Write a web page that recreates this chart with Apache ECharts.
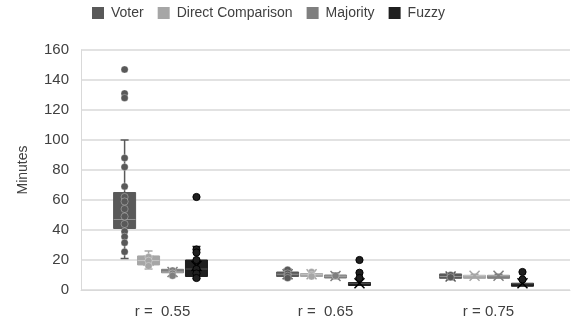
<!DOCTYPE html>
<html>
<head>
<meta charset="utf-8">
<script src="https://cdn.jsdelivr.net/npm/echarts@6/dist/echarts.min.js"></script>
<style>
  html, body { margin: 0; padding: 0; background: #fff; }
  #chart { width: 575px; height: 327px; }
</style>
</head>
<body>
<div id="chart"></div>
<script>
// categories and series names
var categories = ['r =  0.55', 'r =  0.65', 'r = 0.75'];
var seriesNames = ['Voter', 'Direct Comparison', 'Majority', 'Fuzzy'];
var colors = ['#595959', '#a6a6a6', '#7f7f7f', '#1f1f1f'];

// box stats per category: [catIdx, whiskerLow, q1, median, q3, whiskerHigh, mean]
var voterBox = [
  [0, 21, 41, 47, 65, 100, 58],
  [1, 7.5, 9, 10.5, 12, 14, 10.5],
  [2, 7, 7.8, 9, 10.7, 11, 9]
];
var directBox = [
  [0, 14, 16.7, 19.6, 22.7, 26, 19.5],
  [1, 8.5, 9.5, 10.5, 11, 12.5, 10.5],
  [2, 8.5, 9.3, 9.5, 9.8, 10.5, 9.5]
];
var majorityBox = [
  [0, 9, 11.5, 12, 13.8, 14, 12],
  [1, 7.5, 8.5, 9.2, 10, 11.5, 9.3],
  [2, 8.5, 9.3, 9.5, 9.8, 10.5, 9.5]
];
var fuzzyBox = [
  [0, 7.5, 9, 14, 20, 29, 16],
  [1, 3.5, 4, 4.5, 5, 8, 4.5],
  [2, 3.5, 4, 4.2, 4.5, 7, 4.5]
];

// individual points: [catIdx, value]
var voterPts = [
  [0, 147], [0, 131], [0, 128], [0, 88], [0, 82], [0, 69], [0, 62], [0, 59],
  [0, 54], [0, 49], [0, 44], [0, 39], [0, 35.5], [0, 31.5], [0, 25.5],
  [1, 13.5], [1, 11], [1, 9.5], [1, 8],
  [2, 10], [2, 8.5]
];
var directPts = [
  [0, 22], [0, 19.5], [0, 16],
  [1, 12], [1, 10], [1, 9]
];
var majorityPts = [
  [0, 13], [0, 11], [0, 9.5],
  [1, 9.5]
];
var fuzzyPts = [
  [0, 62], [0, 27], [0, 25], [0, 20], [0, 14], [0, 11], [0, 8],
  [1, 20], [1, 11.5], [1, 8],
  [2, 12], [2, 7]
];

var boxSets = [voterBox, directBox, majorityBox, fuzzyBox];
var ptSets = [voterPts, directPts, majorityPts, fuzzyPts];

function offsetOf(idx, band) {
  return (idx - 1.5) * band * 0.147 - band * 0.012;
}

function boxRender(idx) {
  return function (params, api) {
    var cat = api.value(0);
    var band = api.size([1, 0])[0];
    var w = band * 0.135;
    var cx = api.coord([cat, 0])[0] + offsetOf(idx, band);
    var y = function (v) { return api.coord([cat, v])[1]; };
    var col = colors[idx];
    var lo = y(api.value(1)), q1 = y(api.value(2)), md = y(api.value(3)),
        q3 = y(api.value(4)), hi = y(api.value(5)), mn = y(api.value(6));
    var cap = 4;
    var light = idx === 3 ? '#555' : 'rgba(255,255,255,0.35)';
    var ls = { stroke: col, lineWidth: 1.5 };
    return {
      type: 'group',
      children: [
        { type: 'line', shape: { x1: cx, y1: lo, x2: cx, y2: q1 }, style: ls },
        { type: 'line', shape: { x1: cx, y1: q3, x2: cx, y2: hi }, style: ls },
        { type: 'line', shape: { x1: cx - cap, y1: lo, x2: cx + cap, y2: lo }, style: ls },
        { type: 'line', shape: { x1: cx - cap, y1: hi, x2: cx + cap, y2: hi }, style: ls },
        { type: 'rect', shape: { x: cx - w / 2, y: q3, width: w, height: Math.max(q1 - q3, 3) },
          style: { fill: col, stroke: col, lineWidth: 1 } },
        { type: 'line', shape: { x1: cx - w / 2, y1: md, x2: cx + w / 2, y2: md },
          style: { stroke: light, lineWidth: 1 } },
        { type: 'line', shape: { x1: cx - 5, y1: mn - 5, x2: cx + 5, y2: mn + 5 },
          style: { stroke: idx === 3 ? '#000' : col, lineWidth: 1.5 } },
        { type: 'line', shape: { x1: cx - 5, y1: mn + 5, x2: cx + 5, y2: mn - 5 },
          style: { stroke: idx === 3 ? '#000' : col, lineWidth: 1.5 } }
      ]
    };
  };
}

function ptRender(idx) {
  return function (params, api) {
    var cat = api.value(0);
    var band = api.size([1, 0])[0];
    var p = api.coord([cat, api.value(1)]);
    return {
      type: 'circle',
      shape: { cx: p[0] + offsetOf(idx, band), cy: p[1], r: 3.6 },
      style: { fill: colors[idx], stroke: idx === 3 ? '#000' : 'rgba(255,255,255,0.3)', lineWidth: 1 }
    };
  };
}

var series = [];
seriesNames.forEach(function (name, i) {
  series.push({
    name: name, type: 'custom', renderItem: boxRender(i),
    itemStyle: { color: colors[i] },
    encode: { x: 0, y: [1, 2, 3, 4, 5, 6] },
    data: boxSets[i], z: 2
  });
  series.push({
    name: name, type: 'custom', renderItem: ptRender(i),
    itemStyle: { color: colors[i] },
    encode: { x: 0, y: 1 },
    data: ptSets[i], z: 3
  });
});

var chart = echarts.init(document.getElementById('chart'), null, { renderer: 'canvas' });
chart.setOption({
  animation: false,
  textStyle: { fontFamily: 'Liberation Sans, Arial, sans-serif' },
  legend: {
    data: seriesNames,
    top: 1,
    left: 87,
    icon: 'rect',
    itemWidth: 12,
    itemHeight: 12,
    itemGap: 14,
    textStyle: { fontSize: 14, color: '#404040', padding: [0, 0, 0, 2] }
  },
  grid: { left: 81, right: 5, top: 50, bottom: 37, containLabel: false },
  xAxis: {
    type: 'category',
    data: categories,
    axisLine: { show: true, lineStyle: { color: '#d9d9d9' } },
    axisTick: { show: false },
    axisLabel: { fontSize: 15, color: '#404040', margin: 14 }
  },
  yAxis: {
    type: 'value',
    min: 0, max: 160, interval: 20,
    name: 'Minutes',
    nameLocation: 'middle',
    nameGap: 51,
    nameTextStyle: { fontSize: 14, color: '#404040' },
    axisLine: { show: true, lineStyle: { color: '#d9d9d9' } },
    axisTick: { show: false },
    axisLabel: { fontSize: 15, color: '#404040', margin: 12 },
    splitLine: { lineStyle: { color: '#d9d9d9', width: 1.5 } }
  },
  series: series
});
</script>
</body>
</html>
